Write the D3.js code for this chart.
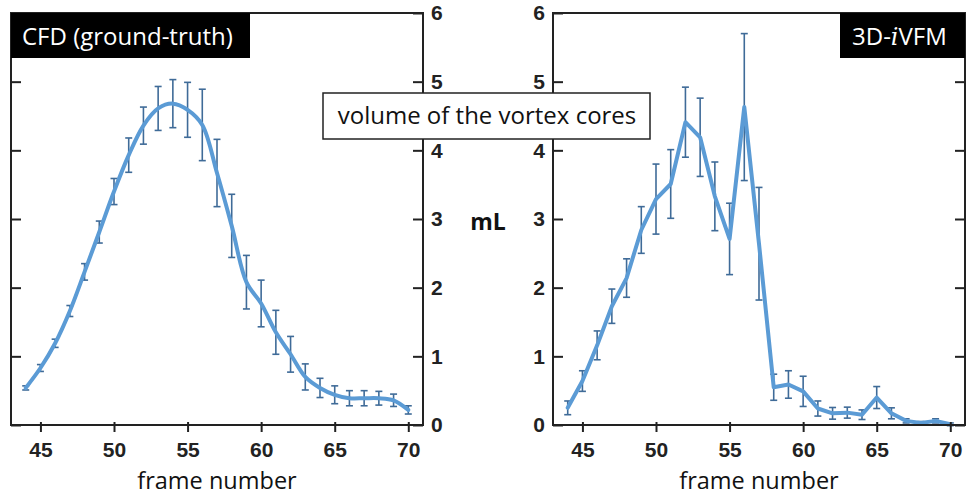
<!DOCTYPE html>
<html>
<head>
<meta charset="utf-8">
<script src="https://cdn.jsdelivr.net/npm/d3@7"></script>
<style>
  html, body { margin: 0; padding: 0; background: #fff; }
  svg { display: block; }
</style>
</head>
<body>
<svg id="chart" width="967" height="499"></svg>
<script>
// ---- data ----
const frames = [44,45,46,47,48,49,50,51,52,53,54,55,56,57,58,59,60,61,62,63,64,65,66,67,68,69,70];
const cfdValues = [0.54,0.83,1.19,1.66,2.23,2.81,3.40,3.93,4.36,4.61,4.68,4.59,4.37,3.67,2.90,2.08,1.77,1.35,1.03,0.70,0.54,0.44,0.39,0.39,0.39,0.36,0.22];
const cfdErr    = [0.03,0.05,0.06,0.08,0.12,0.16,0.19,0.25,0.27,0.32,0.35,0.40,0.52,0.49,0.46,0.39,0.34,0.32,0.26,0.19,0.14,0.13,0.11,0.11,0.10,0.09,0.06];
const ivfmValues = [0.25,0.64,1.16,1.73,2.14,2.84,3.29,3.51,4.41,4.19,3.33,2.71,4.63,2.64,0.55,0.59,0.49,0.24,0.17,0.18,0.15,0.40,0.17,0.06,0.03,0.06,0.01];
const ivfmErr    = [0.10,0.15,0.21,0.25,0.28,0.34,0.51,0.50,0.51,0.57,0.50,0.52,1.07,0.82,0.19,0.20,0.22,0.11,0.085,0.08,0.07,0.16,0.08,0.03,0.02,0.03,0.02];
const xTicks = [45,50,55,60,65,70];
const yTicks = [0,1,2,3,4,5,6];
const xDomain = [43,71];
const yDomain = [0,6];

const svg = d3.select("#chart");
const lineColor = "#5b9bd5";
const errColor = "#3f6b98";
const axisColor = "#222";
const tickFont = "'Liberation Sans', Arial, sans-serif";
const textFont = "'Open Sans', sans-serif";

const plotTop = 13, plotBottom = 425;
const y = d3.scaleLinear().domain(yDomain).range([plotBottom, plotTop]);

function panel(x0, x1, values, errs, curve, labelSide) {
  const x = d3.scaleLinear().domain(xDomain).range([x0, x1]);
  const g = svg.append("g");

  // error bars
  const eb = g.append("g").attr("stroke", errColor).attr("stroke-width", 1.6).attr("fill", "none");
  frames.forEach((f, i) => {
    const cx = x(f), yt = y(values[i] + errs[i]), yb = y(values[i] - errs[i]);
    eb.append("line").attr("x1", cx).attr("x2", cx).attr("y1", yt).attr("y2", yb);
    eb.append("line").attr("x1", cx - 3.5).attr("x2", cx + 3.5).attr("y1", yt).attr("y2", yt);
    eb.append("line").attr("x1", cx - 3.5).attr("x2", cx + 3.5).attr("y1", yb).attr("y2", yb);
  });

  // line
  const line = d3.line().x((d, i) => x(frames[i])).y(d => y(d)).curve(curve);
  g.append("path").datum(values).attr("d", line)
    .attr("fill", "none").attr("stroke", lineColor).attr("stroke-width", 4)
    .attr("stroke-linejoin", "round").attr("stroke-linecap", "round");

  // frame
  g.append("rect").attr("x", x0).attr("y", plotTop).attr("width", x1 - x0).attr("height", plotBottom - plotTop)
    .attr("fill", "none").attr("stroke", axisColor).attr("stroke-width", 2);

  // x axis
  const xa = g.append("g").attr("transform", `translate(0,${plotBottom})`)
    .call(d3.axisBottom(x).tickValues(xTicks).tickFormat(d3.format("d")).tickSizeOuter(0).tickSize(7).tickPadding(10));
  xa.select(".domain").remove();
  xa.selectAll(".tick line").attr("y1", -3).attr("stroke", axisColor).attr("stroke-width", 2);
  xa.selectAll(".tick text").attr("font-family", tickFont).attr("font-weight", "bold")
    .attr("font-size", 21).attr("fill", axisColor);

  // y axes
  const leftAx = g.append("g").attr("transform", `translate(${x0},0)`)
    .call(d3.axisLeft(y).tickValues(yTicks).tickFormat(d3.format("d")).tickSizeOuter(0).tickSize(0));
  leftAx.select(".domain").remove();
  leftAx.selectAll(".tick").append("line").attr("x1", 0).attr("x2", 10)
    .attr("stroke", axisColor).attr("stroke-width", 2);
  const rightAx = g.append("g").attr("transform", `translate(${x1},0)`)
    .call(d3.axisRight(y).tickValues(yTicks).tickFormat(d3.format("d")).tickSizeOuter(0).tickSize(0));
  rightAx.select(".domain").remove();
  rightAx.selectAll(".tick").append("line").attr("x1", 0).attr("x2", -10)
    .attr("stroke", axisColor).attr("stroke-width", 2);

  [leftAx, rightAx].forEach((ax, k) => {
    const isLabelled = (labelSide === "left" && k === 0) || (labelSide === "right" && k === 1);
    ax.selectAll(".tick text")
      .attr("x", k === 0 ? -8 : 8)
      .attr("font-family", tickFont).attr("font-weight", "bold")
      .attr("font-size", 21).attr("fill", axisColor)
      .style("display", isLabelled ? null : "none");
  });

  // x label
  g.append("text").attr("x", (x0 + x1) / 2).attr("y", 489).attr("text-anchor", "middle")
    .attr("font-family", textFont).attr("font-size", 23.5).attr("fill", "#111").text("frame number");
  return g;
}

panel(11, 423, cfdValues, cfdErr, d3.curveCatmullRom.alpha(0.5), "right");
panel(553, 965, ivfmValues, ivfmErr, d3.curveLinear, "left");

// panel labels
svg.append("rect").attr("x", 11).attr("y", 13).attr("width", 239).attr("height", 45).attr("fill", "#000");
svg.append("text").attr("x", 22).attr("y", 45).attr("font-family", textFont).attr("font-size", 24)
  .attr("fill", "#fff").text("CFD (ground-truth)");

svg.append("rect").attr("x", 840).attr("y", 13).attr("width", 125).attr("height", 45).attr("fill", "#000");
const t2 = svg.append("text").attr("x", 852).attr("y", 45).attr("font-family", textFont).attr("font-size", 24)
  .attr("fill", "#fff");
t2.append("tspan").text("3D-");
t2.append("tspan").attr("font-family", "'DejaVu Serif', 'Liberation Serif', serif").attr("font-style", "italic").text("i");
t2.append("tspan").text("VFM");

// center annotations
svg.append("rect").attr("x", 323).attr("y", 93).attr("width", 327).attr("height", 46)
  .attr("fill", "#fff").attr("stroke", "#222").attr("stroke-width", 1.5);
svg.append("text").attr("x", 487).attr("y", 124).attr("text-anchor", "middle")
  .attr("font-family", textFont).attr("font-size", 24).attr("fill", "#111").text("volume of the vortex cores");

svg.append("text").attr("x", 488).attr("y", 230).attr("text-anchor", "middle")
  .attr("font-family", "'Open Sans', sans-serif").attr("font-weight", "bold")
  .attr("font-size", 23).attr("fill", "#111").text("mL");
</script>
</body>
</html>
